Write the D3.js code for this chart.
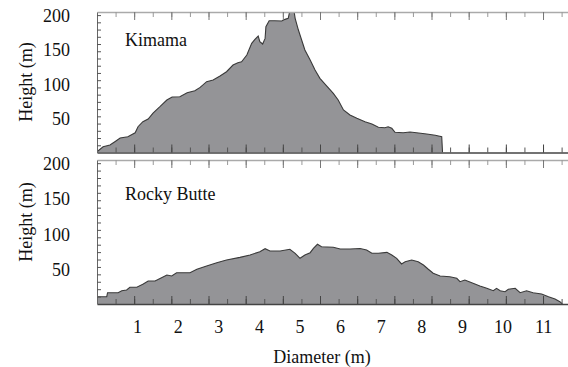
<!DOCTYPE html>
<html>
<head>
  <meta charset="utf-8">
  <script src="https://d3js.org/d3.v7.min.js"></script>
  <style>
    body { margin: 0; background: #fff; }
    svg { display: block; }
  </style>
</head>
<body>
<script>
  // profile data (diameter in m, height in m)
  var kimamaDiameter = [0.00, 0.15, 0.32, 0.44, 0.57, 0.76, 0.94, 1.01, 1.13, 1.26, 1.38, 1.55, 1.72, 1.85,
    2.04, 2.22, 2.41, 2.54, 2.70, 2.86, 3.03, 3.19, 3.35, 3.47, 3.56, 3.69, 3.81, 3.89, 3.97, 4.01,
    4.08, 4.14, 4.16, 4.24, 4.38, 4.55, 4.63, 4.71, 4.75, 4.84, 4.88, 4.96, 5.04, 5.12, 5.25, 5.37,
    5.49, 5.66, 5.82, 5.94, 6.07, 6.23, 6.40, 6.60, 6.77, 6.93, 7.09, 7.17, 7.26, 7.34, 7.54, 7.71,
    7.87, 8.12, 8.33, 8.49, 8.51];
  var kimamaHeight = [1, 8.4, 10.9, 15.7, 21.0, 22.9, 28.7, 37.4, 44.7, 48.6, 57.3, 66.5, 76.2, 80.6,
    81.0, 86.8, 89.7, 94.6, 102.8, 105.2, 111.0, 117.3, 127.0, 130.3, 131.8, 141.5, 158.5, 164.3, 169.1, 160.8,
    157.5, 165.7, 182.6, 191.3, 191.3, 190.9, 193.3, 194.8, 206, 210, 194.8, 177.8, 163.3, 148.8, 134.3, 119.7,
    107.7, 96.5, 85.9, 76.2, 61.7, 54.4, 49.6, 44.7, 41.4, 36.6, 36.0, 37.4, 35.1, 29.3, 28.7, 29.8,
    28.7, 26.9, 25.0, 22.9, 0];

  var rockyDiameter = [0.00, 0.24, 0.26, 0.52, 0.61, 0.73, 0.81, 0.98, 1.14, 1.26, 1.43, 1.59, 1.72, 1.84,
    1.96, 2.29, 2.46, 2.70, 2.95, 3.19, 3.52, 3.77, 4.01, 4.14, 4.26, 4.51, 4.75, 4.88, 5.00, 5.12,
    5.25, 5.33, 5.43, 5.53, 5.82, 5.99, 6.23, 6.48, 6.64, 6.77, 6.93, 7.14, 7.26, 7.38, 7.50, 7.59,
    7.75, 7.91, 8.04, 8.16, 8.28, 8.45, 8.69, 8.86, 8.94, 9.06, 9.23, 9.43, 9.60, 9.76, 9.84, 9.93,
    10.05, 10.13, 10.30, 10.42, 10.58, 10.74, 10.95, 11.12, 11.28, 11.40, 11.46];
  var rockyHeight = [10.3, 10.3, 16.0, 16.0, 18.8, 19.8, 23.7, 23.7, 28.3, 32.6, 32.6, 37.3, 41.1, 39.7,
    44.3, 44.3, 49.2, 53.8, 58.5, 62.3, 66.1, 69.4, 74.1, 78.3, 75.1, 75.1, 77.5, 71.8, 64.7, 69.4,
    72.7, 78.9, 84.6, 81.2, 80.3, 77.9, 77.9, 78.6, 76.5, 71.8, 71.8, 73.2, 69.4, 64.7, 56.7, 59.9,
    62.3, 59.9, 55.2, 49.2, 43.5, 39.7, 38.7, 36.4, 31.6, 34.0, 30.2, 25.5, 22.2, 18.8, 22.2, 18.8,
    17.4, 20.8, 22.2, 16.0, 18.8, 16.0, 14.2, 10.3, 7.1, 3.3, 0];

  var panelNames = ["Kimama", "Rocky Butte"];
  var xTickLabels = [1, 2, 3, 4, 5, 6, 7, 8, 9, 10, 11];
  var yTickLabels = [50, 100, 150, 200];

  var width = 568, height = 367;
  var serif = "'Liberation Serif', 'Times New Roman', Times, serif";

  var svg = d3.select("body").append("svg")
    .attr("width", width)
    .attr("height", height)
    .attr("font-family", serif);

  var x = d3.scaleLinear().domain([0, 11.6]).range([97, 568]);

  // frame tick spacing (the frame marks do not sit on round values)
  var xStep = 0.4577, yStep = 10.5;
  var xMinor = d3.range(1, 26).map(function (k) { return k * xStep; });
  var xMajor = xMinor.filter(function (d, i) { return i % 2 === 1; });
  var yMinor = d3.range(1, 20).map(function (k) { return k * yStep; });

  var panels = [
    { name: panelNames[0], dia: kimamaDiameter, h: kimamaHeight, top: 12, bottom: 152.5, titleY: 82, nameY: 46 },
    { name: panelNames[1], dia: rockyDiameter, h: rockyHeight, top: 160, bottom: 304, titleY: 222, nameY: 200 }
  ];

  panels.forEach(function (p, pi) {
    var y = d3.scaleLinear().domain([0, 204]).range([p.bottom, p.top]);
    var pts = p.dia.map(function (d, i) { return [d, p.h[i]]; });

    var g = svg.append("g");

    svg.append("clipPath").attr("id", "clip" + pi)
      .append("rect")
        .attr("x", 97).attr("y", p.top)
        .attr("width", width - 97).attr("height", p.bottom - p.top);

    var area = d3.area()
      .x(function (d) { return x(d[0]); })
      .y0(y(0))
      .y1(function (d) { return y(d[1]); });
    var line = d3.line()
      .x(function (d) { return x(d[0]); })
      .y(function (d) { return y(d[1]); });

    var plot = g.append("g").attr("clip-path", "url(#clip" + pi + ")");
    plot.append("path").datum(pts)
      .attr("d", area)
      .style("fill", "#949497");
    plot.append("path").datum(pts)
      .attr("d", line)
      .style("fill", "none")
      .style("stroke", "#3a3a3a")
      .style("stroke-width", 1.1);

    // top edge, ticks pointing down into the plot
    g.append("g").attr("transform", "translate(0," + p.top + ")")
      .call(d3.axisBottom(x).tickValues(xMinor).tickSize(5).tickSizeOuter(0).tickFormat(""))
      .call(function (s) {
        s.select(".domain").attr("stroke", "#aaa").attr("stroke-width", 1.5);
        s.selectAll(".tick line").attr("stroke", "#999");
      });
    g.append("g").attr("transform", "translate(0," + p.top + ")")
      .call(d3.axisBottom(x).tickValues(xMajor).tickSize(8).tickSizeOuter(0).tickFormat(""))
      .call(function (s) {
        s.select(".domain").remove();
        s.selectAll(".tick line").attr("stroke", "#777");
      });

    // bottom edge, ticks pointing up
    g.append("g").attr("transform", "translate(0," + p.bottom + ")")
      .call(d3.axisTop(x).tickValues(xMinor).tickSize(5).tickSizeOuter(0).tickFormat(""))
      .call(function (s) {
        s.select(".domain").attr("stroke", "#444").attr("stroke-width", 1.3);
        s.selectAll(".tick line").attr("stroke", "#555");
      });
    g.append("g").attr("transform", "translate(0," + p.bottom + ")")
      .call(d3.axisTop(x).tickValues(xMajor).tickSize(8).tickSizeOuter(0).tickFormat(""))
      .call(function (s) {
        s.select(".domain").remove();
        s.selectAll(".tick line").attr("stroke", "#444");
      });

    // left edge
    g.append("g").attr("transform", "translate(97,0)")
      .call(d3.axisRight(y).tickValues(yMinor).tickSize(4).tickSizeOuter(0).tickFormat(""))
      .call(function (s) {
        s.select(".domain").attr("stroke", "#666");
        s.selectAll(".tick line").attr("stroke", "#555");
      });

    // y labels
    g.selectAll("text.ylab")
      .data(yTickLabels)
      .enter().append("text")
        .attr("class", "ylab")
        .attr("x", 70)
        .attr("y", function (d) { return y(d); })
        .attr("dy", "0.4em")
        .attr("text-anchor", "end")
        .attr("font-family", serif)
        .attr("font-size", 18)
        .attr("fill", "#111")
        .text(function (d) { return d; });

    g.append("text")
      .attr("transform", "translate(32," + p.titleY + ") rotate(-90)")
      .attr("text-anchor", "middle")
      .attr("font-family", serif)
      .attr("font-size", 18)
      .attr("fill", "#111")
      .text("Height (m)");

    g.append("text")
      .attr("x", 125)
      .attr("y", p.nameY)
      .attr("font-family", serif)
      .attr("font-size", 18)
      .attr("fill", "#111")
      .text(p.name);
  });

  svg.selectAll("text.xlab")
    .data(xTickLabels)
    .enter().append("text")
      .attr("class", "xlab")
      .attr("x", function (d) { return x(d); })
      .attr("y", 333)
      .attr("text-anchor", "middle")
      .attr("font-family", serif)
      .attr("font-size", 18)
      .attr("fill", "#111")
      .text(function (d) { return d; });

  svg.append("text")
    .attr("x", 322)
    .attr("y", 363)
    .attr("text-anchor", "middle")
    .attr("font-family", serif)
    .attr("font-size", 18)
    .attr("fill", "#111")
    .text("Diameter (m)");
</script>
</body>
</html>
